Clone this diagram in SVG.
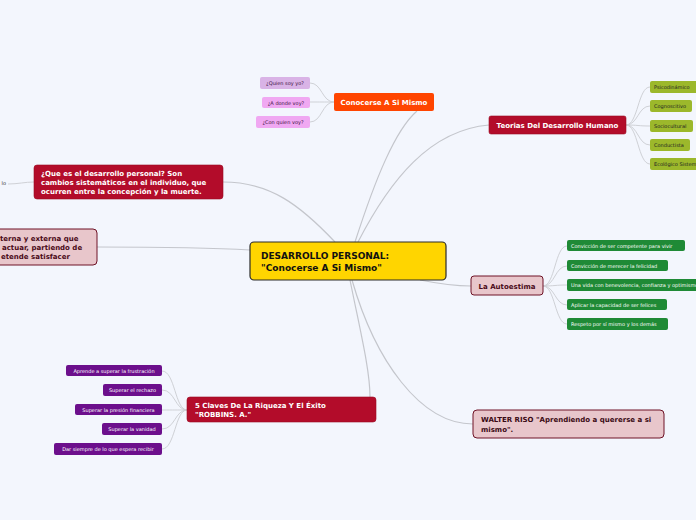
<svg xmlns="http://www.w3.org/2000/svg" width="696" height="520" viewBox="0 0 696 520">
<style>
text{font-family:"DejaVu Sans",Verdana,sans-serif}
.c{fill:none;stroke:#c4c6cc;stroke-width:1.2}
.cs{fill:none;stroke:#cfd1d6;stroke-width:1}
.b{font-weight:bold;font-size:7px;fill:#fff}
.s{font-size:5px;fill:#fff}
.sd{font-size:5px;fill:#3a1040}
.red{fill:#b30c2a;stroke:#9a0a22;stroke-width:0.6}
.pk{fill:#e8c6cb;stroke:#6e1226;stroke-width:1}
.pur{fill:#6c0f8c}
.grn{fill:#1f8a36}
.olv{fill:#9cb82b}
</style>
<rect width="696" height="520" fill="#f3f6fd"/>
<g id="connectors">
<path class="c" d="M355,242 C375,180 395,130 417,111"/>
<path class="c" d="M358,242 C390,180 430,130 489,125"/>
<path class="c" d="M335,242 C300,205 270,182 223,182"/>
<path class="c" d="M250,250 C200,247 150,247 97,247"/>
<path class="c" d="M420,280 C440,284 455,286 471,286"/>
<path class="c" d="M352,280 C375,360 420,424 473,424"/>
<path class="c" d="M350,280 C360,330 370,370 370,397"/>
<path class="cs" d="M34,182 C25,182 18,184 8,184"/>
<path class="cs" d="M334,102 C322,102 322,83 310,83"/>
<path class="cs" d="M334,102 C322,102 322,102 310,102"/>
<path class="cs" d="M334,102 C322,102 322,122 310,122"/>
<path class="cs" d="M626,125 C638,125 638,87 650,87"/>
<path class="cs" d="M626,125 C638,125 638,106 650,106"/>
<path class="cs" d="M626,125 C638,125 638,126 650,126"/>
<path class="cs" d="M626,125 C638,125 638,145 650,145"/>
<path class="cs" d="M626,125 C638,125 638,164 650,164"/>
<path class="cs" d="M543,286 C555,286 555,246 567,246"/>
<path class="cs" d="M543,286 C555,286 555,266 567,266"/>
<path class="cs" d="M543,286 C555,286 555,285 567,285"/>
<path class="cs" d="M543,286 C555,286 555,305 567,305"/>
<path class="cs" d="M543,286 C555,286 555,324 567,324"/>
<path class="cs" d="M187,410 C175,410 175,371 162,371"/>
<path class="cs" d="M187,410 C175,410 175,390 162,390"/>
<path class="cs" d="M187,410 C175,410 175,410 162,410"/>
<path class="cs" d="M187,410 C175,410 175,429 162,429"/>
<path class="cs" d="M187,410 C175,410 175,449 162,449"/>
</g>
<g id="center">
<rect x="250" y="242" width="196" height="38" rx="4" fill="#ffd500" stroke="#2a2a2a" stroke-width="1.2"/>
<text x="261" y="259" font-size="9" font-weight="bold" fill="#111">DESARROLLO PERSONAL:</text>
<text x="261" y="270.5" font-size="9" font-weight="bold" fill="#111">"Conocerse A Si Mismo"</text>
</g>
<g id="conocerse">
<rect x="334" y="93" width="100" height="18" rx="2" fill="#ff4500"/>
<text x="384" y="105" class="b" text-anchor="middle">Conocerse A Si Mismo</text>
</g>
<g id="quien"><rect x="260" y="77" width="50" height="12" rx="2" fill="#d9b3e6"/><text x="285" y="85" class="sd" text-anchor="middle">¿Quien soy yo?</text></g>
<g id="donde"><rect x="262" y="97" width="48" height="11" rx="2" fill="#f0a8f2"/><text x="286" y="104.5" class="sd" text-anchor="middle">¿A donde voy?</text></g>
<g id="conquien"><rect x="256" y="116" width="54" height="12" rx="2" fill="#f0a8f2"/><text x="283" y="124" class="sd" text-anchor="middle">¿Con quien voy?</text></g>
<g id="teorias">
<rect x="489" y="116" width="137" height="18" rx="2" class="red"/>
<text x="557.5" y="128" class="b" text-anchor="middle">Teorias Del Desarrollo Humano</text>
</g>
<g id="psico"><rect x="650" y="81" width="50" height="12" rx="2" class="olv"/><text x="654" y="89" class="sd" style="fill:#222">Psicodinámico</text></g>
<g id="cogno"><rect x="650" y="100" width="42" height="12" rx="2" class="olv"/><text x="654" y="108" class="sd" style="fill:#222">Cognoscitivo</text></g>
<g id="socio"><rect x="650" y="120" width="43" height="12" rx="2" class="olv"/><text x="654" y="128" class="sd" style="fill:#222">Sociocultural</text></g>
<g id="conduct"><rect x="650" y="139" width="40" height="12" rx="2" class="olv"/><text x="654" y="147" class="sd" style="fill:#222">Conductista</text></g>
<g id="ecolog"><rect x="650" y="158" width="60" height="12" rx="2" class="olv"/><text x="654" y="166" class="sd" style="fill:#222">Ecológico Sistemático</text></g>
<g id="quees">
<rect x="34" y="165" width="189" height="34" rx="3" class="red"/>
<text x="41" y="175.5" class="b">¿Que es el desarrollo personal? Son</text>
<text x="41" y="184.5" class="b">cambios sistemáticos en el individuo, que</text>
<text x="41" y="193.5" class="b">ocurren entre la concepción y la muerte.</text>
</g>
<g id="lo"><text x="6" y="185" font-size="5" fill="#333" text-anchor="end">lo</text></g>
<g id="interna">
<rect x="-10" y="229" width="107" height="36" rx="4" class="pk"/>
<text x="0" y="241" font-size="7" font-weight="bold" fill="#4a0a18">terna y externa que</text>
<text x="2" y="250" font-size="7" font-weight="bold" fill="#4a0a18">actuar, partiendo de</text>
<text x="1" y="259" font-size="7" font-weight="bold" fill="#4a0a18">etende satisfacer</text>
</g>
<g id="autoestima">
<rect x="471" y="276" width="72" height="19" rx="3" class="pk"/>
<text x="507" y="288.5" font-size="7" font-weight="bold" fill="#4a0a18" text-anchor="middle">La Autoestima</text>
</g>
<g id="a1"><rect x="567" y="240" width="118" height="11" rx="2" class="grn"/><text x="571" y="247.5" class="s">Convicción de ser competente para vivir</text></g>
<g id="a2"><rect x="567" y="260" width="101" height="11" rx="2" class="grn"/><text x="571" y="267.5" class="s">Convicción de merecer la felicidad</text></g>
<g id="a3"><rect x="567" y="279" width="140" height="12" rx="2" class="grn"/><text x="571" y="287" class="s">Una vida con benevolencia, confianza y optimismo</text></g>
<g id="a4"><rect x="567" y="299" width="100" height="11" rx="2" class="grn"/><text x="571" y="306.5" class="s">Aplicar la capacidad de ser felices</text></g>
<g id="a5"><rect x="567" y="318" width="101" height="12" rx="2" class="grn"/><text x="571" y="326" class="s">Respeto por sí mismo y los demás</text></g>
<g id="claves">
<rect x="187" y="397" width="189" height="25" rx="3" class="red"/>
<text x="195" y="408" class="b">5 Claves De La Riqueza Y El Éxito</text>
<text x="195" y="417" class="b">"ROBBINS. A."</text>
</g>
<g id="p1"><rect x="66" y="365" width="96" height="11" rx="2" class="pur"/><text x="114" y="372.5" class="s" text-anchor="middle">Aprende a superar la frustración</text></g>
<g id="p2"><rect x="103" y="384" width="59" height="12" rx="2" class="pur"/><text x="132.5" y="392" class="s" text-anchor="middle">Superar el rechazo</text></g>
<g id="p3"><rect x="75" y="404" width="87" height="11" rx="2" class="pur"/><text x="118.5" y="411.5" class="s" text-anchor="middle">Superar la presión financiera</text></g>
<g id="p4"><rect x="102" y="423" width="60" height="12" rx="2" class="pur"/><text x="132" y="431" class="s" text-anchor="middle">Superar la vanidad</text></g>
<g id="p5"><rect x="54" y="443" width="108" height="12" rx="2" class="pur"/><text x="108" y="451" class="s" text-anchor="middle">Dar siempre de lo que espera recibir</text></g>
<g id="riso">
<rect x="473" y="410" width="191" height="28" rx="4" class="pk"/>
<text x="481" y="422" font-size="7" font-weight="bold" fill="#3a0a14">WALTER RISO "Aprendiendo a quererse a si</text>
<text x="481" y="432" font-size="7" font-weight="bold" fill="#3a0a14">mismo".</text>
</g>
</svg>
